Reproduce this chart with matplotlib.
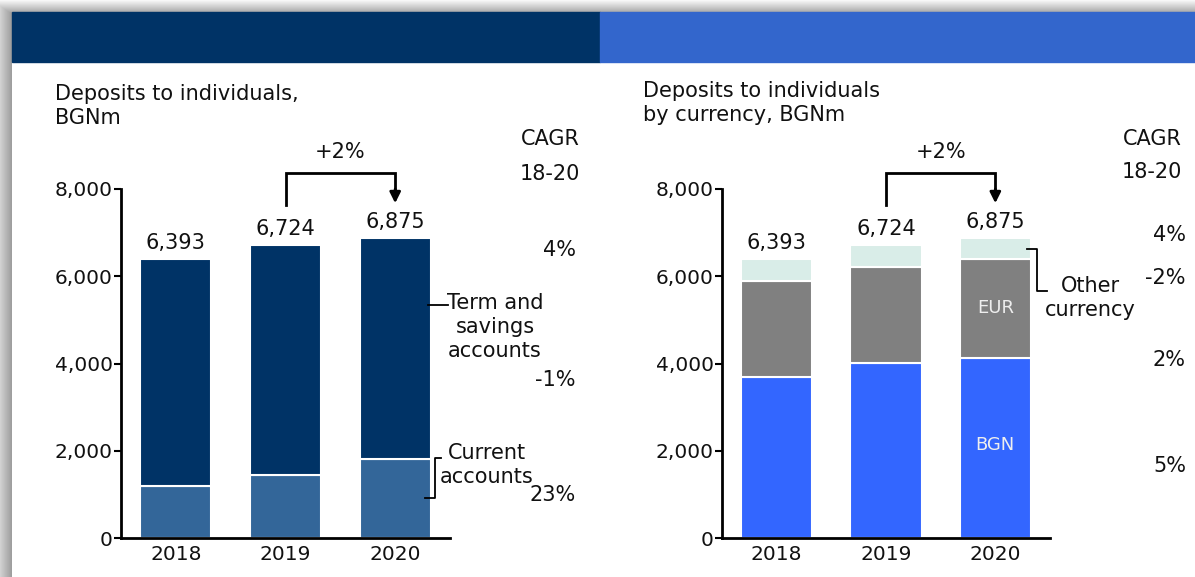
import matplotlib
matplotlib.use("Agg")
import matplotlib.pyplot as plt
import numpy as np
from matplotlib.patches import Rectangle

W, H = 1195, 577

years = ["2018", "2019", "2020"]
totals = [6393, 6724, 6875]

# deposits by account type, BGNm
current_accounts = [1200, 1445, 1812]
term_savings = [t - c for t, c in zip(totals, current_accounts)]
cagr_left = ["4%", "-1%", "23%"]

# deposits by currency, BGNm
bgn = [3700, 4010, 4130]
eur = [2190, 2210, 2262]
other_ccy = [t - b - e for t, b, e in zip(totals, bgn, eur)]
cagr_right = ["4%", "-2%", "2%", "5%"]

growth_label = "+2%"

NAVY = "#003366"
STEEL = "#336699"
ROYAL = "#3366CC"
BGN_BLUE = "#3366FF"
EUR_GREY = "#808080"
MINT = "#D9EDE8"
FS = 15

plt.rcParams["font.family"] = "DejaVu Sans"


def fx(px):
    return px / W


def fy(py):
    return 1 - py / H


def ftext(px, py, s, **kw):
    kw.setdefault("fontsize", FS)
    kw.setdefault("color", "#111111")
    fig.text(fx(px), fy(py), s, **kw)


fig = plt.figure(figsize=(W / 100, H / 100), dpi=100)

# card shadow on top and left edges
bg = np.ones((H, W, 3))
col = np.linspace(0.82, 0.62, 12)
bg[:, :12, :] = col[None, :, None]
row = np.linspace(0.97, 0.68, 12)
bg[:12, 12:, :] = row[:, None, None]
for i in range(12):
    for j in range(12):
        bg[i, j, :] = max(col[j], row[i])
fig.figimage(bg, xo=0, yo=0, origin="upper", zorder=-5)

# header bands
fig.add_artist(Rectangle((fx(12), fy(62)), fx(600) - fx(12), fy(12) - fy(62),
                         transform=fig.transFigure, color=NAVY, zorder=1))
fig.add_artist(Rectangle((fx(600), fy(62)), fx(W) - fx(600), fy(12) - fy(62),
                         transform=fig.transFigure, color=ROYAL, zorder=1))

ax_l = fig.add_axes([fx(121), fy(538), fx(450) - fx(121), fy(189) - fy(538)])
ax_r = fig.add_axes([fx(722), fy(538), fx(1050) - fx(722), fy(189) - fy(538)])
x = np.arange(len(years))
bw = 0.65

ax_l.bar(x, current_accounts, bw, color=STEEL, edgecolor="white", linewidth=1.5)
ax_l.bar(x, term_savings, bw, bottom=current_accounts, color=NAVY,
         edgecolor="white", linewidth=1.5)

ax_r.bar(x, bgn, bw, color=BGN_BLUE, edgecolor="white", linewidth=1.5)
ax_r.bar(x, eur, bw, bottom=bgn, color=EUR_GREY, edgecolor="white", linewidth=1.5)
ax_r.bar(x, other_ccy, bw, bottom=np.add(bgn, eur), color=MINT,
         edgecolor="white", linewidth=1.5)

for ax in (ax_l, ax_r):
    ax.set_facecolor("none")
    ax.set_xlim(-0.5, 2.5)
    ax.set_ylim(0, 8000)
    ax.set_yticks([0, 2000, 4000, 6000, 8000])
    ax.set_yticklabels([f"{v:,}" for v in [0, 2000, 4000, 6000, 8000]])
    ax.set_xticks(x)
    ax.set_xticklabels(years)
    ax.tick_params(axis="y", length=5, width=1.5, pad=1, labelsize=14.5,
                   labelcolor="#111111")
    ax.tick_params(axis="x", length=0, pad=5, labelsize=14.5, labelcolor="#111111")
    for s in ("top", "right"):
        ax.spines[s].set_visible(False)
    ax.spines["left"].set_linewidth(2)
    ax.spines["bottom"].set_linewidth(2)

    for xi, t in zip(x, totals):
        ax.text(xi, t + 230, f"{t:,}", ha="center", va="baseline", fontsize=FS,
                color="#111111", clip_on=False)

    # growth bracket between 2019 and 2020
    top = 8370
    ax.plot([1, 1, 2, 2], [totals[1] + 900, top, top, 7950], color="black",
            lw=2, clip_on=False, solid_joinstyle="miter")
    ax.annotate("", xy=(2, totals[2] + 800), xytext=(2, 8000),
                arrowprops=dict(arrowstyle="-|>", color="black", lw=2,
                                mutation_scale=16, shrinkA=0, shrinkB=0),
                annotation_clip=False)
    ax.text(1.5, 8850, growth_label, ha="center", va="center", fontsize=FS,
            color="#111111", clip_on=False)

# left panel texts
ftext(55, 106, "Deposits to individuals,\nBGNm", va="center", linespacing=1.2)
ftext(550, 139, "CAGR", ha="center", va="center")
ftext(550, 174, "18-20", ha="center", va="center")
for s, py in zip(cagr_left, [250, 380, 495]):
    ftext(576, py, s, ha="right", va="center")
ftext(495, 327, "Term and\nsavings\naccounts", ha="center", va="center",
      linespacing=1.25)
ftext(487, 465, "Current\naccounts", ha="center", va="center", linespacing=1.25)

lines = [
    ([428, 448], [305, 305]),
    ([425, 435, 435, 441], [498, 498, 458, 458]),
    ([1027, 1037, 1037, 1047], [249, 249, 291, 291]),
]
for xs, ys in lines:
    fig.add_artist(plt.Line2D([fx(v) for v in xs], [fy(v) for v in ys],
                              transform=fig.transFigure, color="black", lw=1.3))

# right panel texts
ftext(643, 103, "Deposits to individuals\nby currency, BGNm", va="center",
      linespacing=1.3)
ftext(1152, 139, "CAGR", ha="center", va="center")
ftext(1152, 172, "18-20", ha="center", va="center")
for s, py in zip(cagr_right, [235, 278, 360, 466]):
    ftext(1186, py, s, ha="right", va="center")
ftext(1090, 298, "Other\ncurrency", ha="center", va="center", linespacing=1.25)

ax_r.text(2, bgn[2] + eur[2] / 2, "EUR", ha="center", va="center", fontsize=13,
          color="#EEEEEE")
ax_r.text(2, 2130, "BGN", ha="center", va="center", fontsize=13, color="#EEEEEE")

fig.savefig("out.png", dpi=100)
